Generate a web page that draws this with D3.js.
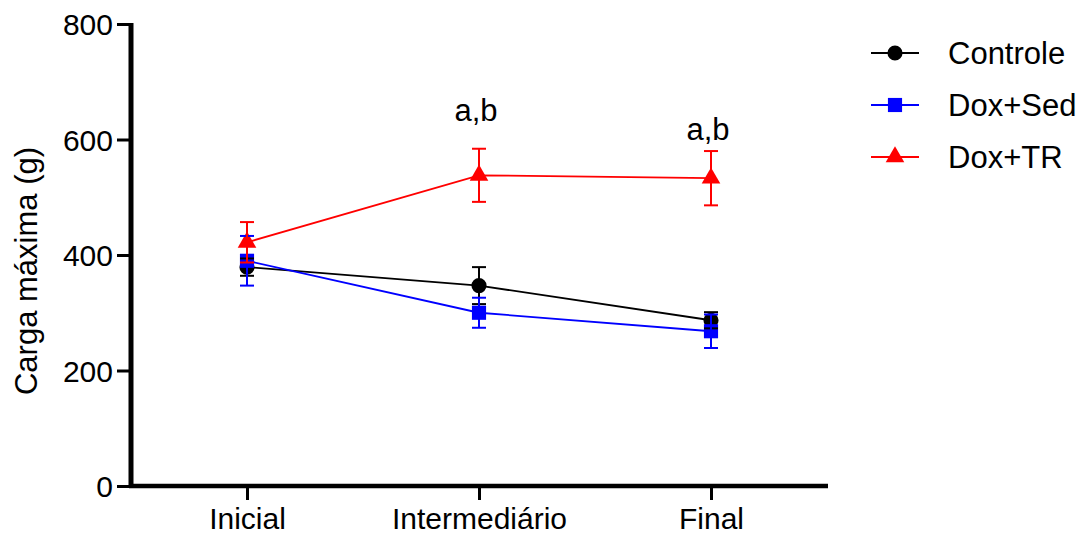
<!DOCTYPE html>
<html>
<head>
<meta charset="utf-8">
<script src="https://cdn.jsdelivr.net/npm/d3@7"></script>
<style>
  html, body { margin: 0; padding: 0; background: #fff; }
  svg { display: block; }
  text { font-family: "Liberation Sans", Arial, sans-serif; fill: #000; }
</style>
</head>
<body>
<svg id="chart" width="1084" height="536"></svg>
<script>
// ---- data ----
const categories = ["Inicial", "Intermediário", "Final"];
const seriesNames = ["Controle", "Dox+Sed", "Dox+TR"];
const controleMean = [379, 347, 287];
const controleSem  = [15, 32, 14];
const doxSedMean   = [390, 300, 268];
const doxSedSem    = [43, 26, 29];
const doxTrMean    = [422, 538, 533];
const doxTrSem     = [35, 46, 47];
const yTicks = [0, 200, 400, 600, 800];
const yLabel = "Carga máxima (g)";
const annotCats = ["Intermediário", "Final"];
const annotText = ["a,b", "a,b"];
const annotValue = [632, 599];

const colors = ["#000000", "#0000ff", "#ff0000"];
const shapes = [d3.symbolCircle, d3.symbolSquare, d3.symbolTriangle];
const shapeSizes = [180, 200, 150];

const series = [
  { name: seriesNames[0], mean: controleMean, sem: controleSem },
  { name: seriesNames[1], mean: doxSedMean, sem: doxSedSem },
  { name: seriesNames[2], mean: doxTrMean, sem: doxTrSem }
];

// ---- layout ----
const svg = d3.select("#chart");
const x = d3.scalePoint().domain(categories).range([131, 827]).padding(0.5);
const y = d3.scaleLinear().domain([0, 800]).range([486, 24]);

// axes
const yAxis = d3.axisLeft(y).tickValues(yTicks).tickSize(14).tickSizeOuter(0).tickPadding(4);
const gy = svg.append("g").attr("transform", "translate(131,0)").call(yAxis);
gy.select(".domain").attr("stroke", "#000").attr("stroke-width", 5)
  .attr("d", `M0,${y(800) - 1}V${y(0) + 2}`);
gy.selectAll(".tick line").attr("stroke", "#000").attr("stroke-width", 3);
gy.selectAll(".tick text").attr("font-size", 30).attr("font-family", "Liberation Sans, Arial, sans-serif").attr("dy", "0.36em");

const xAxis = d3.axisBottom(x).tickSize(14).tickSizeOuter(0).tickPadding(8);
const gx = svg.append("g").attr("transform", "translate(0,486)").call(xAxis);
gx.select(".domain").attr("stroke", "#000").attr("stroke-width", 4.5)
  .attr("d", `M129,0H828`);
gx.selectAll(".tick line").attr("stroke", "#000").attr("stroke-width", 3);
gx.selectAll(".tick text").attr("font-size", 30).attr("font-family", "Liberation Sans, Arial, sans-serif")
  .attr("dy", "0").attr("y", 43);

// y label
svg.append("text")
  .attr("transform", `translate(37,${(y(0) + y(800)) / 2 + 16}) rotate(-90)`)
  .attr("text-anchor", "middle")
  .attr("font-size", 31)
  .text(yLabel);

// lines
const line = d3.line().x((d, i) => x(categories[i])).y(d => y(d));
series.forEach((s, k) => {
  svg.append("path").attr("d", line(s.mean)).attr("fill", "none")
    .attr("stroke", colors[k]).attr("stroke-width", 1.8);
});

// markers
series.forEach((s, k) => {
  svg.append("g").selectAll("path").data(s.mean).join("path")
    .attr("transform", (d, i) => `translate(${x(categories[i])},${y(d)})`)
    .attr("d", d3.symbol().type(shapes[k]).size(shapeSizes[k]))
    .attr("fill", colors[k]);
});

// error bars
const capW = 7;
series.forEach((s, k) => {
  const g = svg.append("g").attr("stroke", colors[k]).attr("stroke-width", 2).attr("fill", "none");
  s.mean.forEach((m, i) => {
    const cx = x(categories[i]);
    const top = y(m + s.sem[i]), bot = y(m - s.sem[i]);
    g.append("line").attr("x1", cx).attr("x2", cx).attr("y1", top).attr("y2", bot);
    g.append("line").attr("x1", cx - capW).attr("x2", cx + capW).attr("y1", top).attr("y2", top);
    g.append("line").attr("x1", cx - capW).attr("x2", cx + capW).attr("y1", bot).attr("y2", bot);
  });
});

// annotations
annotCats.forEach((c, i) => {
  svg.append("text").attr("x", x(c) - 3).attr("y", y(annotValue[i]))
    .attr("text-anchor", "middle").attr("font-size", 31).text(annotText[i]);
});

// legend
const legend = svg.append("g");
series.forEach((s, k) => {
  const cy = 53 + k * 52;
  legend.append("line").attr("x1", 871).attr("x2", 919).attr("y1", cy).attr("y2", cy)
    .attr("stroke", colors[k]).attr("stroke-width", 1.8);
  legend.append("path").attr("transform", `translate(895,${cy})`)
    .attr("d", d3.symbol().type(shapes[k]).size(shapeSizes[k])).attr("fill", colors[k]);
  legend.append("text").attr("x", 948).attr("y", cy + 11).attr("font-size", 31).text(s.name);
});
</script>
</body>
</html>
